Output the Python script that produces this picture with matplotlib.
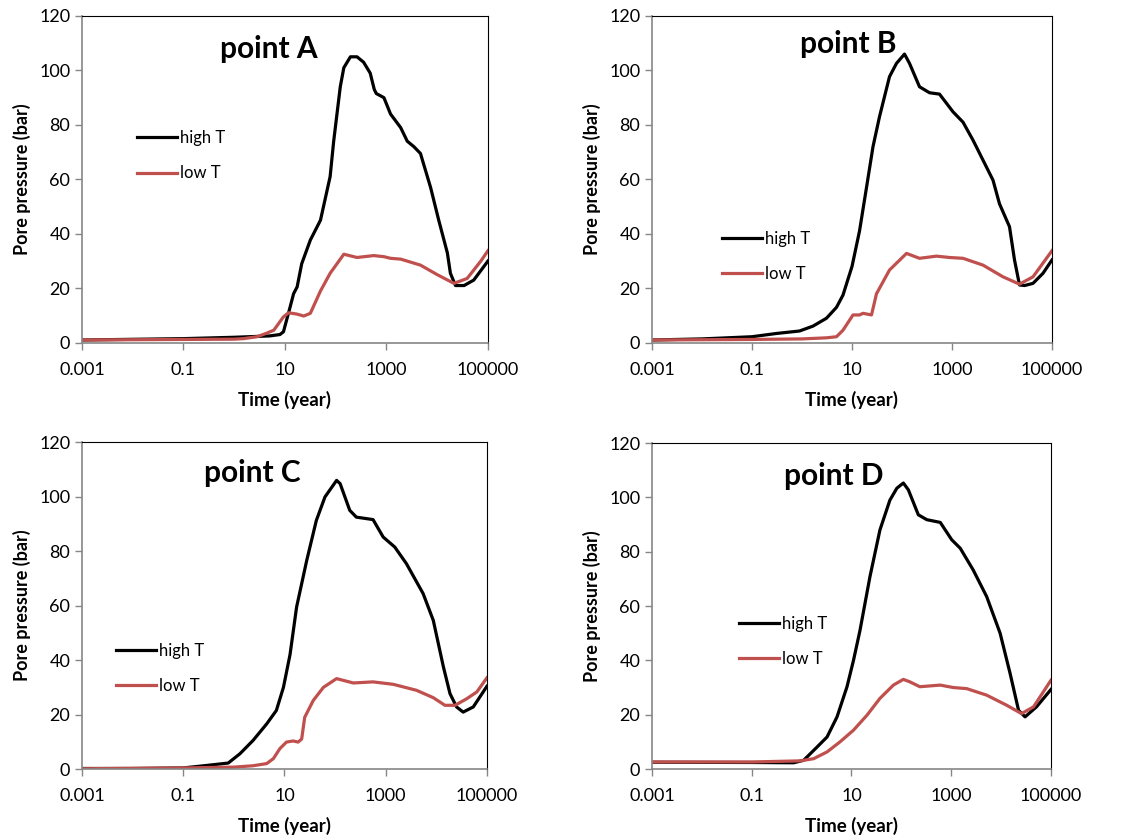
import matplotlib
matplotlib.use("Agg")
import matplotlib.pyplot as plt
from matplotlib.ticker import FixedLocator, FixedFormatter, NullLocator

plt.rcParams['font.family'] = ['Lato', 'DejaVu Sans']

# time in log10(year), pressure in bar
a_high_t = [-3, -1, 0, 0.7, 0.9, 0.97, 1.1, 1.17, 1.24, 1.33, 1.5, 1.7, 1.89, 1.96, 2.09, 2.16,
            2.29, 2.42, 2.55, 2.68, 2.76, 2.8, 2.95, 3.08, 3.28, 3.41, 3.54, 3.67, 3.87, 4.03,
            4.2, 4.26, 4.36, 4.53, 4.72, 5]
a_high_p = [1, 1.5, 2, 2.5, 3, 4, 13, 18, 20.5, 29, 37.7, 45, 61, 74, 94, 101,
            105, 105, 103, 99, 93, 91.5, 90, 84, 79, 74, 72, 69.5, 57, 45,
            33, 25.5, 21, 21, 23, 30]
a_low_t = [-3, -1, 0, 0.18, 0.45, 0.64, 0.78, 0.97, 1.07, 1.24, 1.37, 1.5, 1.7, 1.89, 2.16,
           2.42, 2.75, 2.95, 3.08, 3.28, 3.67, 4.0, 4.33, 4.59, 4.86, 5]
a_low_p = [1, 1.2, 1.3, 1.5, 2.2, 3.5, 4.6, 9.5, 11, 10.5, 9.8, 10.8, 19, 25.5, 32.5,
           31.3, 32, 31.6, 31, 30.7, 28.5, 25, 21.8, 23.6, 30, 33.8]

b_high_t = [-3, -2, -1, -0.51, -0.05, 0.22, 0.49, 0.69, 0.82, 1.0, 1.15, 1.29, 1.42, 1.55,
            1.75, 1.89, 2.05, 2.15, 2.35, 2.55, 2.75, 3.02, 3.22, 3.42, 3.82, 3.95, 4.15,
            4.25, 4.35, 4.45, 4.62, 4.82, 5]
b_high_p = [1, 1.4, 2.2, 3.4, 4.3, 6.1, 9, 13, 17.5, 28, 41, 57, 72, 83,
            97.7, 102.6, 106, 102.6, 94, 91.8, 91.3, 84.8, 81, 74.4, 59.7, 51, 42.6,
            30.4, 21.2, 21, 21.8, 25.5, 30.4]
b_low_t = [-3, -1, 0, 0.49, 0.69, 0.82, 1.02, 1.15, 1.22, 1.39, 1.49, 1.75, 2.09, 2.35,
           2.69, 2.95, 3.22, 3.62, 4.02, 4.35, 4.62, 5]
b_low_p = [1, 1.2, 1.4, 1.8, 2.2, 4.6, 10.2, 10.2, 10.8, 10.2, 18, 26.7, 32.8, 31,
           31.8, 31.3, 31, 28.5, 24.2, 21.5, 24.2, 33.8]

c_high_t = [-3, -2, -1, -0.54, -0.11, 0.12, 0.38, 0.65, 0.84, 0.98, 1.11, 1.24, 1.44, 1.63,
            1.8, 2.03, 2.1, 2.29, 2.42, 2.75, 2.95, 3.18, 3.41, 3.74, 3.94, 4.14, 4.27,
            4.4, 4.53, 4.73, 5]
c_high_p = [0.2, 0.2, 0.4, 1.3, 2.2, 5.6, 10.5, 16.6, 21.5, 30, 42, 59.5, 76.6, 91.3,
            99.9, 106, 104.8, 95, 92.5, 91.6, 85.2, 81.5, 75.4, 64.4, 54.6, 37.5, 27.7,
            22.8, 20.9, 22.8, 30.4]
c_low_t = [-3, -1, 0, 0.38, 0.65, 0.78, 0.91, 1.04, 1.17, 1.27, 1.34, 1.4, 1.57, 1.77,
           2.03, 2.36, 2.75, 3.15, 3.61, 3.94, 4.17, 4.37, 4.6, 4.8, 5]
c_low_p = [0.1, 0.4, 0.7, 1.2, 2, 3.8, 7.5, 9.9, 10.3, 9.9, 11, 19, 25.2, 30,
           33.2, 31.6, 32, 31.1, 28.9, 26.2, 23.4, 23.4, 25.8, 28.3, 33.5]

d_high_t = [-3, -1, -0.16, 0.04, 0.31, 0.51, 0.71, 0.91, 1.04, 1.17, 1.37, 1.57, 1.77,
            1.91, 2.04, 2.14, 2.34, 2.51, 2.78, 3.01, 3.18, 3.44, 3.71, 3.98, 4.18, 4.35,
            4.48, 4.71, 5]
d_high_p = [2.5, 2.4, 2.3, 3.2, 8.1, 11.8, 19.2, 30.3, 40, 51, 70.8, 88, 99,
            103.4, 105.3, 102.8, 93.6, 91.8, 90.8, 84.4, 81.3, 73.3, 63.5, 50, 35.2, 21.6,
            19.2, 22.9, 29.3]
d_low_t = [-3, -1, -0.03, 0.24, 0.51, 0.77, 1.04, 1.31, 1.57, 1.84, 2.04, 2.17, 2.37,
           2.78, 3.04, 3.31, 3.71, 4.11, 4.41, 4.65, 5]
d_low_p = [2.6, 2.6, 3, 3.8, 6.3, 10, 14.3, 19.8, 26, 30.9, 33, 32.1, 30.3,
           30.9, 30, 29.6, 27.2, 23.5, 20.4, 22.9, 32.7]

x_ticks = [0.001, 0.1, 10, 1000, 100000]
x_tick_labels = ['0.001', '0.1', '10', '1000', '100000']
y_ticks = [0, 20, 40, 60, 80, 100, 120]

panels = [
    ('point A', a_high_t, a_high_p, a_low_t, a_low_p),
    ('point B', b_high_t, b_high_p, b_low_t, b_low_p),
    ('point C', c_high_t, c_high_p, c_low_t, c_low_p),
    ('point D', d_high_t, d_high_p, d_low_t, d_low_p),
]

# axes boxes in figure fractions
boxes = [
    [0.0726, 0.592, 0.3596, 0.389],
    [0.5775, 0.592, 0.3543, 0.389],
    [0.0726, 0.0845, 0.3587, 0.389],
    [0.5775, 0.0845, 0.3534, 0.388],
]
title_pos = [(0.46, 0.90), (0.49, 0.915), (0.42, 0.905), (0.456, 0.90)]
legend_pos = [(0.135, 0.572), (0.175, 0.265), (0.083, 0.308), (0.217, 0.392)]

red = '#C0504D'
grey = '#868686'

fig = plt.figure(figsize=(11.29, 8.4), dpi=100)

for i, (name, ht, hp, lt, lp) in enumerate(panels):
    ax = fig.add_axes(boxes[i])
    ax.plot([10 ** v for v in ht], hp, color='black', lw=2.3, label='high T')
    ax.plot([10 ** v for v in lt], lp, color=red, lw=2.3, label='low T')
    ax.set_xscale('log')
    ax.set_xlim(0.001, 100000)
    ax.set_ylim(0, 120)
    ax.xaxis.set_major_locator(FixedLocator(x_ticks))
    ax.xaxis.set_major_formatter(FixedFormatter(x_tick_labels))
    ax.xaxis.set_minor_locator(NullLocator())
    ax.set_yticks(y_ticks)
    ax.tick_params(axis='both', labelsize=13, colors=grey, labelcolor='black',
                   length=5, width=1, direction='out')
    ax.tick_params(axis='x', pad=9)
    for side in ['left', 'bottom']:
        ax.spines[side].set_color(grey)
        ax.spines[side].set_linewidth(1.2)
    for side in ['top', 'right']:
        ax.spines[side].set_color('black')
        ax.spines[side].set_linewidth(0.8)
    ax.set_xlabel('Time (year)', fontsize=13.5, fontweight='bold', labelpad=9)
    ax.set_ylabel('Pore pressure (bar)', fontsize=13, fontweight='bold', labelpad=6)
    ax.text(title_pos[i][0], title_pos[i][1], name, transform=ax.transAxes,
            ha='center', va='center', fontsize=21.5, fontweight='bold')
    ax.legend(loc='center left', bbox_to_anchor=legend_pos[i], frameon=False,
              fontsize=12, handlelength=2.4, handletextpad=0.2,
              labelspacing=1.15, borderpad=0, borderaxespad=0)

fig.savefig('out.png', dpi=100)
